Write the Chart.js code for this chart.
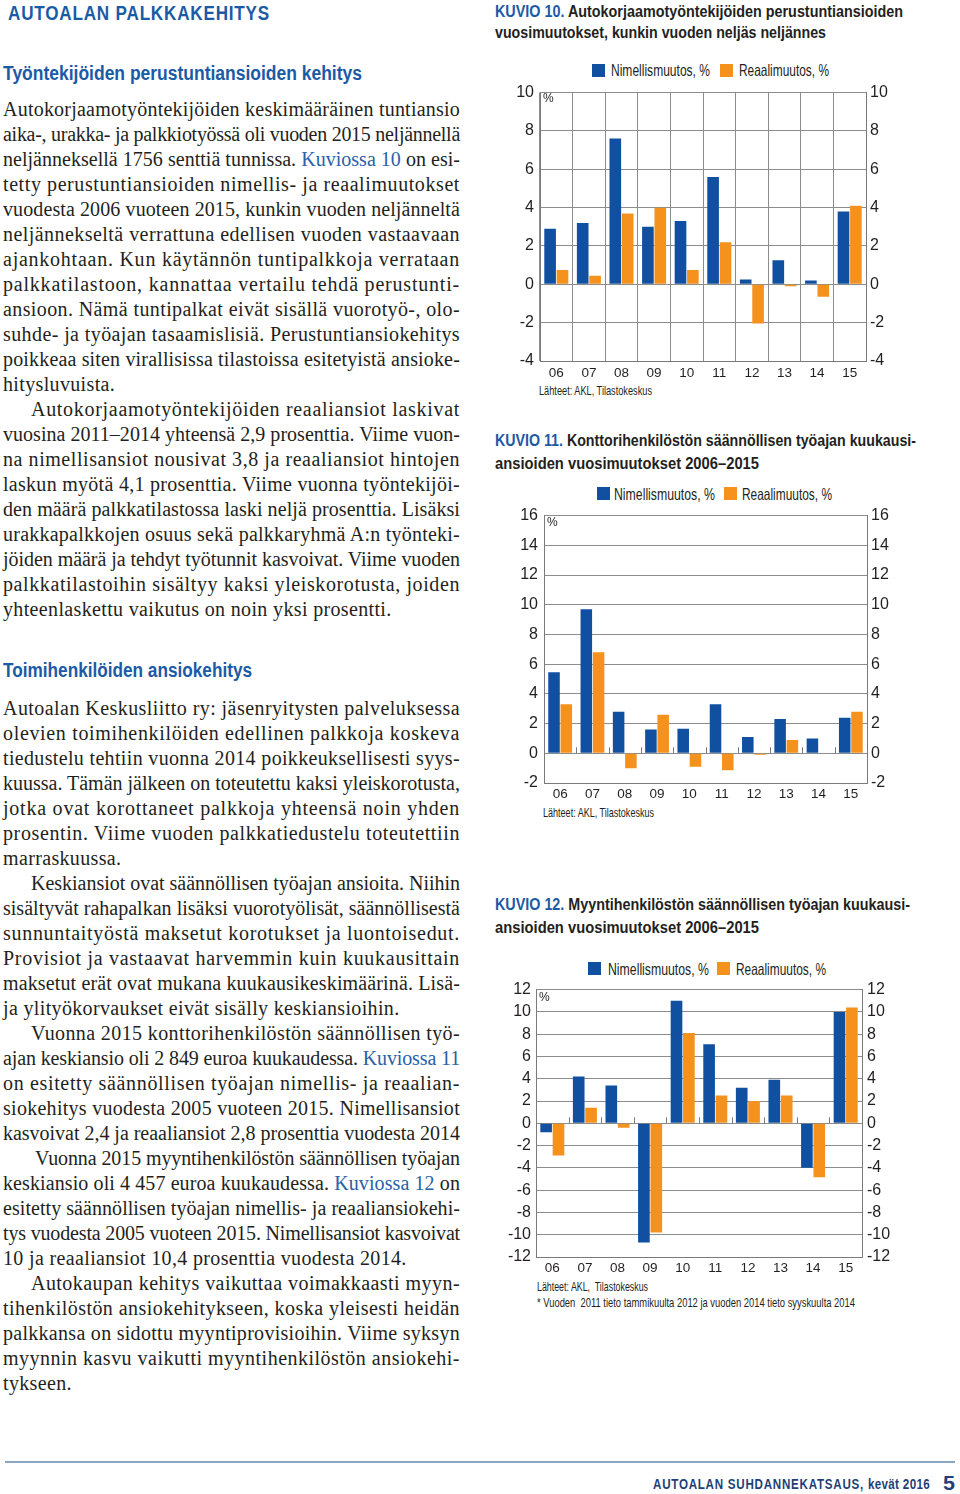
<!DOCTYPE html>
<html lang="fi">
<head>
<meta charset="utf-8">
<script src="https://cdn.jsdelivr.net/npm/chart.js@4.4.1/dist/chart.umd.min.js"></script>
<style>
  html, body { margin:0; padding:0; background:#fff; }
  body { width:960px; height:1494px; position:relative; overflow:hidden; }
  .abs { position:absolute; white-space:nowrap; transform-origin:0 50%; }
  .narrow { font-family:"Liberation Sans Narrow","Liberation Sans",Arial,sans-serif; }
  .hdr { color:#1b5aa5; font-weight:bold; }
  .body { position:absolute; left:3px; width:457px; font-family:"Liberation Serif","DejaVu Serif",serif; font-size:20px; line-height:25px; color:#231f20; }
  .l { display:block; height:25px; white-space:nowrap; }
  .l span.t { display:inline-block; white-space:nowrap; }
  .ind { padding-left:28px; }
  a.k { color:#2861a8; text-decoration:none; }
  .ct { font-size:16.5px; font-weight:bold; color:#231f20; line-height:22px; }
  .ct b { color:#1b5aa5; }
  .leg { font-size:16.5px; color:#231f20; line-height:18px; }
  .sq { position:absolute; width:13px; height:13px; }
  .src { font-size:13px; color:#231f20; line-height:14px; }
  .cbox { position:absolute; }
</style>
</head>
<body>

<div class="abs narrow hdr" data-w="262" style="left:8px;top:1px;font-size:21px;letter-spacing:1px;line-height:24px;">AUTOALAN PALKKAKEHITYS</div>
<div class="abs narrow hdr" data-w="359" style="left:3px;top:61px;font-size:20px;line-height:24px;">Työntekijöiden perustuntiansioiden kehitys</div>

<div class="body" style="top:97px;">
<div class="l j">Autokorjaamotyöntekijöiden keskimääräinen tuntiansio</div>
<div class="l j">aika-, urakka- ja palkkiotyössä oli vuoden 2015 neljännellä</div>
<div class="l j">neljänneksellä 1756 senttiä tunnissa. <a class="k">Kuviossa 10</a> on esi-</div>
<div class="l j">tetty perustuntiansioiden nimellis- ja reaalimuutokset</div>
<div class="l j">vuodesta 2006 vuoteen 2015, kunkin vuoden neljänneltä</div>
<div class="l j">neljännekseltä verrattuna edellisen vuoden vastaavaan</div>
<div class="l j">ajankohtaan. Kun käytännön tuntipalkkoja verrataan</div>
<div class="l j">palkkatilastoon, kannattaa vertailu tehdä perustunti-</div>
<div class="l j">ansioon. Nämä tuntipalkat eivät sisällä vuorotyö-, olo-</div>
<div class="l j">suhde- ja työajan tasaamislisiä. Perustuntiansiokehitys</div>
<div class="l j">poikkeaa siten virallisissa tilastoissa esitetyistä ansioke-</div>
<div class="l">hitysluvuista.</div>
<div class="l j ind">Autokorjaamotyöntekijöiden reaaliansiot laskivat</div>
<div class="l j">vuosina 2011–2014 yhteensä 2,9 prosenttia. Viime vuon-</div>
<div class="l j">na nimellisansiot nousivat 3,8 ja reaaliansiot hintojen</div>
<div class="l j">laskun myötä 4,1 prosenttia. Viime vuonna työntekijöi-</div>
<div class="l j">den määrä palkkatilastossa laski neljä prosenttia. Lisäksi</div>
<div class="l j">urakkapalkkojen osuus sekä palkkaryhmä A:n työnteki-</div>
<div class="l j">jöiden määrä ja tehdyt työtunnit kasvoivat. Viime vuoden</div>
<div class="l j">palkkatilastoihin sisältyy kaksi yleiskorotusta, joiden</div>
<div class="l">yhteenlaskettu vaikutus on noin yksi prosentti.</div>
</div>

<div class="abs narrow hdr" data-w="249" style="left:3px;top:658px;font-size:20px;line-height:24px;">Toimihenkilöiden ansiokehitys</div>

<div class="body" style="top:696px;">
<div class="l j">Autoalan Keskusliitto ry: jäsenryitysten palveluksessa</div>
<div class="l j">olevien toimihenkilöiden edellinen palkkoja koskeva</div>
<div class="l j">tiedustelu tehtiin vuonna 2014 poikkeuksellisesti syys-</div>
<div class="l j">kuussa. Tämän jälkeen on toteutettu kaksi yleiskorotusta,</div>
<div class="l j">jotka ovat korottaneet palkkoja yhteensä noin yhden</div>
<div class="l j">prosentin. Viime vuoden palkkatiedustelu toteutettiin</div>
<div class="l">marraskuussa.</div>
<div class="l j ind">Keskiansiot ovat säännöllisen työajan ansioita. Niihin</div>
<div class="l j">sisältyvät rahapalkan lisäksi vuorotyölisät, säännöllisestä</div>
<div class="l j">sunnuntaityöstä maksetut korotukset ja luontoisedut.</div>
<div class="l j">Provisiot ja vastaavat harvemmin kuin kuukausittain</div>
<div class="l j">maksetut erät ovat mukana kuukausikeskimäärinä. Lisä-</div>
<div class="l">ja ylityökorvaukset eivät sisälly keskiansioihin.</div>
<div class="l j ind">Vuonna 2015 konttorihenkilöstön säännöllisen työ-</div>
<div class="l j">ajan keskiansio oli 2 849 euroa kuukaudessa. <a class="k">Kuviossa 11</a></div>
<div class="l j">on esitetty säännöllisen työajan nimellis- ja reaalian-</div>
<div class="l j">siokehitys vuodesta 2005 vuoteen 2015. Nimellisansiot</div>
<div class="l j">kasvoivat 2,4 ja reaaliansiot 2,8 prosenttia vuodesta 2014</div>
<div class="l j ind" style="padding-left:32px">Vuonna 2015 myyntihenkilöstön säännöllisen työajan</div>
<div class="l j">keskiansio oli 4 457 euroa kuukaudessa. <a class="k">Kuviossa 12</a> on</div>
<div class="l j">esitetty säännöllisen työajan nimellis- ja reaaliansiokehi-</div>
<div class="l j">tys vuodesta 2005 vuoteen 2015. Nimellisansiot kasvoivat</div>
<div class="l">10 ja reaaliansiot 10,4 prosenttia vuodesta 2014.</div>
<div class="l j ind">Autokaupan kehitys vaikuttaa voimakkaasti myyn-</div>
<div class="l j">tihenkilöstön ansiokehitykseen, koska yleisesti heidän</div>
<div class="l j">palkkansa on sidottu myyntiprovisioihin. Viime syksyn</div>
<div class="l j">myynnin kasvu vaikutti myyntihenkilöstön ansiokehi-</div>
<div class="l">tykseen.</div>
</div>

<!-- Chart 10 -->
<div class="abs narrow ct" data-w="408" style="left:495px;top:0px;"><b>KUVIO 10.</b> Autokorjaamotyöntekijöiden perustuntiansioiden</div>
<div class="abs narrow ct" data-w="331" style="left:495px;top:21px;">vuosimuutokset, kunkin vuoden neljäs neljännes</div>
<div class="sq" style="left:592px;top:64px;background:#1150a0;"></div>
<div class="abs narrow leg" data-w="99" style="left:611px;top:61px;">Nimellismuutos, %</div>
<div class="sq" style="left:720px;top:64px;background:#f5921e;"></div>
<div class="abs narrow leg" data-w="90" style="left:739px;top:61px;">Reaalimuutos, %</div>
<div class="cbox" style="left:495px;top:77px;width:410px;height:305px;"><canvas id="c1"></canvas></div>
<div class="abs narrow src" style="left:543px;top:91px;font-size:12px;">%</div>
<div class="abs narrow src" data-w="113" style="left:539px;top:384px;">Lähteet: AKL, Tilastokeskus</div>

<!-- Chart 11 -->
<div class="abs narrow ct" data-w="421" style="left:495px;top:429px;"><b>KUVIO 11.</b> Konttorihenkilöstön säännöllisen työajan kuukausi-</div>
<div class="abs narrow ct" data-w="264" style="left:495px;top:452px;">ansioiden vuosimuutokset 2006–2015</div>
<div class="sq" style="left:597px;top:487px;background:#1150a0;"></div>
<div class="abs narrow leg" data-w="101" style="left:614px;top:485px;">Nimellismuutos, %</div>
<div class="sq" style="left:724px;top:487px;background:#f5921e;"></div>
<div class="abs narrow leg" data-w="90" style="left:742px;top:485px;">Reaalimuutos, %</div>
<div class="cbox" style="left:500px;top:500px;width:405px;height:302px;"><canvas id="c2"></canvas></div>
<div class="abs narrow src" style="left:547px;top:515px;font-size:12px;">%</div>
<div class="abs narrow src" data-w="111" style="left:543px;top:806px;">Lähteet: AKL, Tilastokeskus</div>

<!-- Chart 12 -->
<div class="abs narrow ct" data-w="415" style="left:495px;top:893px;"><b>KUVIO 12.</b> Myyntihenkilöstön säännöllisen työajan kuukausi-</div>
<div class="abs narrow ct" data-w="264" style="left:495px;top:916px;">ansioiden vuosimuutokset 2006–2015</div>
<div class="sq" style="left:588px;top:962px;background:#1150a0;"></div>
<div class="abs narrow leg" data-w="101" style="left:608px;top:960px;">Nimellismuutos, %</div>
<div class="sq" style="left:717px;top:962px;background:#f5921e;"></div>
<div class="abs narrow leg" data-w="90" style="left:736px;top:960px;">Reaalimuutos, %</div>
<div class="cbox" style="left:495px;top:975px;width:410px;height:302px;"><canvas id="c3"></canvas></div>
<div class="abs narrow src" style="left:539px;top:990px;font-size:12px;">%</div>
<div class="abs narrow src" data-w="111" style="left:537px;top:1280px;">Lähteet: AKL,&nbsp; Tilastokeskus</div>
<div class="abs narrow src" data-w="318" style="left:537px;top:1296px;">* Vuoden&nbsp; 2011 tieto tammikuulta 2012 ja vuoden 2014 tieto syyskuulta 2014</div>

<!-- footer -->
<div style="position:absolute;left:5px;top:1461px;width:950px;height:2px;background:#8ea6c6;"></div>
<div class="abs narrow" data-w="277" style="left:653px;top:1476px;font-size:14px;font-weight:bold;color:#1f3f78;letter-spacing:0.9px;line-height:16px;">AUTOALAN SUHDANNEKATSAUS, <span style="letter-spacing:0.4px">kevät 2016</span></div>
<div class="abs narrow" data-w="12" style="left:943px;top:1472px;font-size:21px;font-weight:bold;color:#1f3f78;line-height:22px;">5</div>

<script>
// ---------------- DATA ----------------
const years = ["06","07","08","09","10","11","12","13","14","15"];

// Kuvio 10: Autokorjaamotyöntekijöiden perustuntiansiot
const k10Nimellis = [2.9, 3.2, 7.6, 3.0, 3.3, 5.6, 0.25, 1.25, 0.2, 3.8];
const k10Reaali   = [0.75, 0.45, 3.7, 4.0, 0.75, 2.2, -2.05, -0.1, -0.65, 4.1];
const k10Ticks = { min: -4, max: 10, step: 2 };

// Kuvio 11: Konttorihenkilöstö
const k11Nimellis = [5.45, 9.7, 2.8, 1.6, 1.65, 3.3, 1.1, 2.3, 1.0, 2.4];
const k11Reaali   = [3.3, 6.8, -1.0, 2.6, -0.9, -1.15, -0.1, 0.9, -0.03, 2.8];
const k11Ticks = { min: -2, max: 16, step: 2 };

// Kuvio 12: Myyntihenkilöstö
const k12Nimellis = [-0.8, 4.2, 3.4, -10.7, 11.0, 7.1, 3.2, 3.9, -4.0, 10.0];
const k12Reaali   = [-2.9, 1.4, -0.4, -9.8, 8.1, 2.5, 2.0, 2.5, -4.85, 10.4];
const k12Ticks = { min: -12, max: 12, step: 2 };

const seriesNames = ["Nimellismuutos, %", "Reaalimuutos, %"];
const colBlue = "#1150a0";
const colOrange = "#f5921e";
// --------------------------------------

const FONT = '"Liberation Sans Narrow","Liberation Sans",Arial,sans-serif';
const gridC = "#8c8c8c";
const frameC = "#7a7a7a";

const zeroTicks = {
  id: "zeroTicks",
  beforeDatasetsDraw(chart, args, opts) {
    if (!opts || !opts.show) return;
    const x = chart.scales.x, y = chart.scales.y, ctx = chart.ctx;
    const y0 = y.getPixelForValue(0);
    ctx.save();
    ctx.strokeStyle = frameC; ctx.lineWidth = 1;
    for (let i = 1; i < x.ticks.length; i++) {
      const px = Math.round((x.getPixelForTick(i - 1) + x.getPixelForTick(i)) / 2) + 0.5;
      ctx.beginPath(); ctx.moveTo(px, y0); ctx.lineTo(px, y0 - 6); ctx.stroke();
    }
    ctx.restore();
  }
};

function makeChart(id, nim, rea, t, o) {
  const yt = (pad) => ({
    stepSize: t.step, padding: pad, color: "#231f20", maxTicksLimit: 30, autoSkip: false,
    font: { family: FONT, size: 16 },
    callback: v => String(v)
  });
  return new Chart(document.getElementById(id), {
    type: "bar",
    data: {
      labels: years,
      datasets: [
        { label: seriesNames[0], data: nim, backgroundColor: colBlue, yAxisID: "y" },
        { label: seriesNames[1], data: rea, backgroundColor: colOrange, yAxisID: "y" }
      ]
    },
    plugins: [zeroTicks],
    options: {
      responsive: true, maintainAspectRatio: false, animation: false,
      datasets: { bar: { categoryPercentage: 0.76, barPercentage: 0.94 } },
      layout: { padding: { top: o.padTop, left: 0, right: 0, bottom: 0 } },
      plugins: { legend: { display: false }, tooltip: { enabled: false }, zeroTicks: { show: !o.vgrid } },
      scales: {
        x: {
          grid: { display: o.vgrid, offset: true, color: gridC, drawTicks: false },
          border: { display: true, color: frameC },
          ticks: { padding: o.xPad, color: "#231f20", font: { family: FONT, size: 13.5 } },
          afterFit: s => { s.height = o.xH; }
        },
        y: {
          min: t.min, max: t.max,
          ticks: yt(o.lPad),
          grid: { color: gridC, drawTicks: false },
          border: { display: true, color: frameC },
          afterFit: s => { s.width = o.lW; }
        },
        y2: {
          position: "right", min: t.min, max: t.max,
          ticks: yt(o.rPad),
          grid: { display: false, drawTicks: false },
          border: { display: true, color: frameC },
          afterFit: s => { s.width = o.rW; }
        }
      }
    }
  });
}

function fitWidths() {
  document.querySelectorAll("[data-w]").forEach(el => {
    const w = parseFloat(el.dataset.w);
    const nat = el.getBoundingClientRect().width;
    if (nat > 0) el.style.transform = "scaleX(" + (w / nat) + ")";
  });
}

function justify() {
  document.querySelectorAll(".body .l").forEach(el => {
    el.innerHTML = '<span class="t">' + el.innerHTML + '</span>';
    const sp = el.firstChild;
    const cs = getComputedStyle(el);
    const target = el.clientWidth - parseFloat(cs.paddingLeft);
    const nat = sp.getBoundingClientRect().width;
    const txt = sp.textContent;
    const n = txt.length;
    const spaces = (txt.match(/ /g) || []).length;
    const extra = target - nat;
    if (extra < 0) {
      sp.style.letterSpacing = (extra / n) + "px";
    } else if (el.classList.contains("j")) {
      let ls = Math.min(extra / n, 0.9);
      sp.style.letterSpacing = ls + "px";
      const rest = extra - ls * n;
      if (spaces > 0 && rest > 0) sp.style.wordSpacing = (rest / spaces) + "px";
    } else {
      sp.style.letterSpacing = "0.35px";
    }
  });
}

function go() {
  justify();
  fitWidths();
  makeChart("c1", k10Nimellis, k10Reaali, k10Ticks,
    { padTop: 12, xH: 21, lW: 45, rW: 39, lPad: 6, rPad: 4, xPad: 4, vgrid: true });
  makeChart("c2", k11Nimellis, k11Reaali, k11Ticks,
    { padTop: 12, xH: 19, lW: 44, rW: 38, lPad: 6, rPad: 4, xPad: 3, vgrid: false });
  makeChart("c3", k12Nimellis, k12Reaali, k12Ticks,
    { padTop: 12, xH: 20, lW: 41, rW: 43, lPad: 5, rPad: 5, xPad: 3, vgrid: false });
}
if (document.fonts && document.fonts.ready) document.fonts.ready.then(go); else go();
</script>
</body>
</html>
